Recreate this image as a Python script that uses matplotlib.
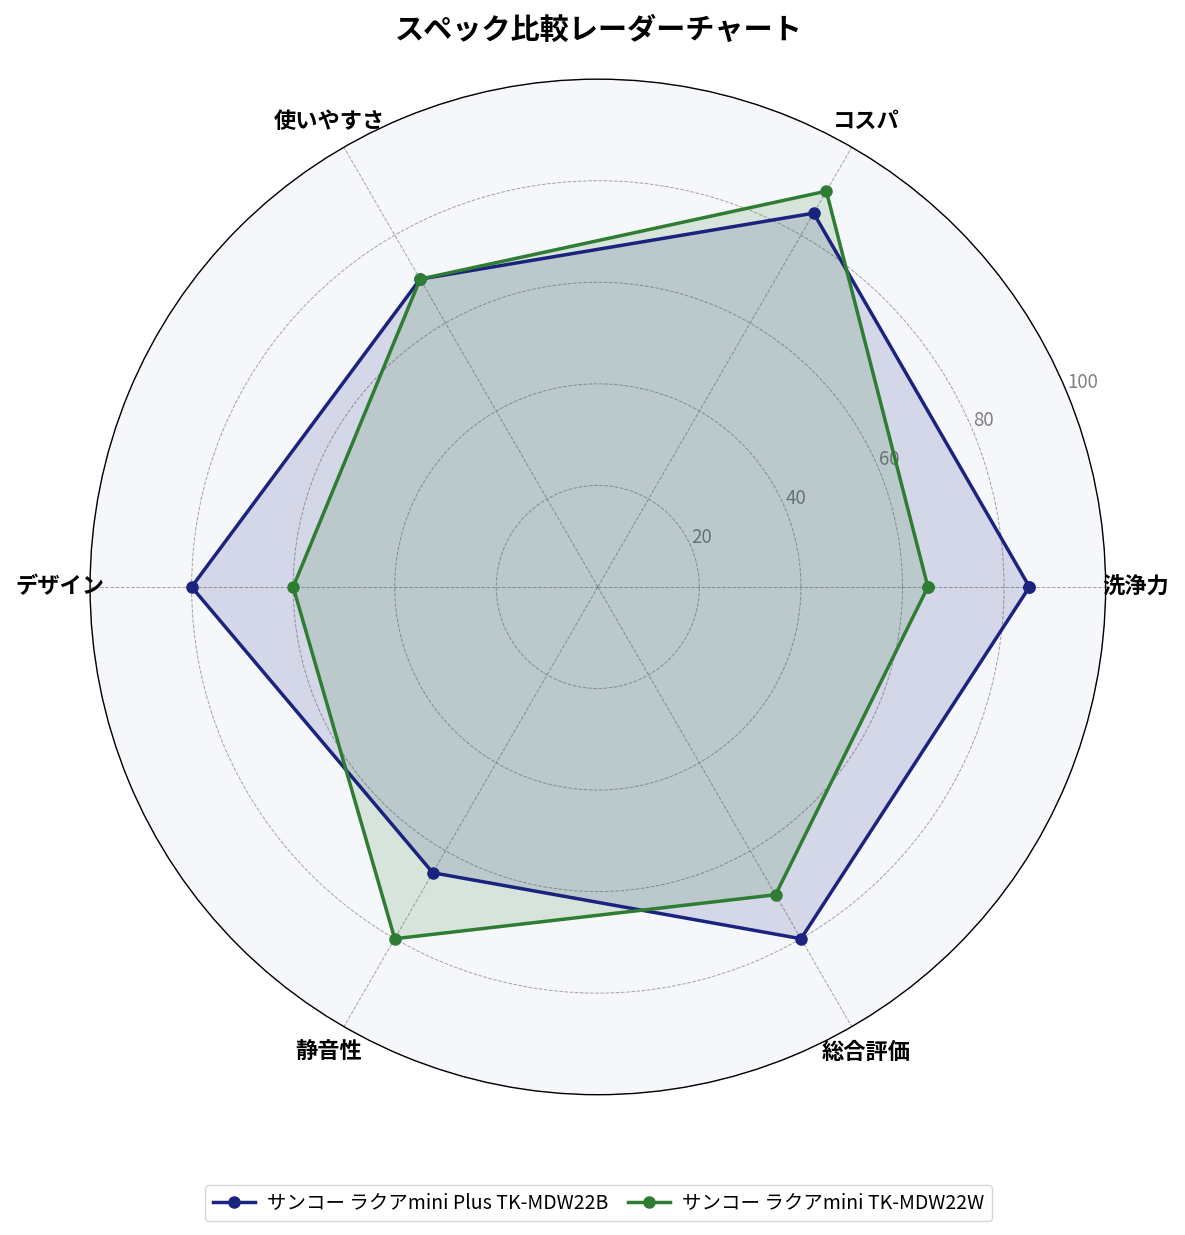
import numpy as np
import matplotlib
matplotlib.use("Agg")
import matplotlib.pyplot as plt

plt.rcParams['font.family'] = ['Noto Sans CJK JP', 'DejaVu Sans']

categories = ['洗浄力', 'コスパ', '使いやすさ', 'デザイン', '静音性', '総合評価']
series_names = ['サンコー ラクアmini Plus TK-MDW22B', 'サンコー ラクアmini TK-MDW22W']
values_plus = [85, 85, 70, 80, 65, 80]
values_mini = [65, 90, 70, 60, 80, 70]
r_ticks = [20, 40, 60, 80, 100]
colors = ['#1a237e', '#2e7d32']

fig = plt.figure(figsize=(11.85, 12.35), dpi=100)
ax = fig.add_axes([0.076, 0.1134, 0.857, 0.8227], projection='polar')
ax.set_facecolor('#f5f7fa')

n = len(categories)
angles = np.linspace(0, 2 * np.pi, n, endpoint=False).tolist()
angles_closed = angles + angles[:1]

for vals, name, c in zip([values_plus, values_mini], series_names, colors):
    v = list(vals) + vals[:1]
    ax.plot(angles_closed, v, color=c, linewidth=2.5, marker='o', markersize=8, label=name, zorder=3)
    ax.fill(angles_closed, v, color=c, alpha=0.15, zorder=2)

ax.set_ylim(0, 100)
ax.set_yticks(r_ticks)
ax.set_yticklabels([str(t) for t in r_ticks], color='#808080', fontsize=13.5)
ax.set_rlabel_position(22.5)
ax.set_xticks(angles)
ax.set_xticklabels(categories, fontsize=16, fontweight='bold')
ax.tick_params(axis='x', pad=11)
ax.grid(color='#999999', linestyle='--', linewidth=0.7, alpha=0.9)
ax.spines['polar'].set_color('black')
ax.spines['polar'].set_linewidth(1.0)
for lbl in ax.get_yticklabels():
    lbl.set_zorder(5)

fig.suptitle('スペック比較レーダーチャート', fontsize=21, fontweight='bold', x=0.505, y=0.988)

fig.legend(loc='center', bbox_to_anchor=(0.505, 0.026), ncol=2, fontsize=14,
           frameon=True, handlelength=2.2, columnspacing=1.0, handletextpad=0.6)

fig.savefig('out.png', dpi=100)
